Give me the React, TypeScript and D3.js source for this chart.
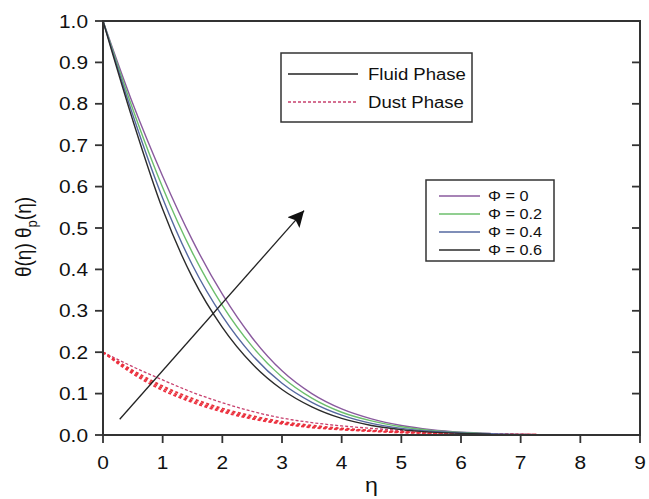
import React from "react";
import * as d3 from "d3";

const etaGrid = [0, 0.5, 1, 1.5, 2, 2.5, 3, 3.5, 4, 4.5, 5, 5.5, 6, 6.5];
const fluidPhi0 = [1.0, 0.8, 0.625, 0.47, 0.34, 0.235, 0.155, 0.1, 0.063, 0.039, 0.023, 0.013, 0.007, 0.004];
const fluidPhi02 = [1.0, 0.787, 0.598, 0.44, 0.313, 0.214, 0.14, 0.089, 0.055, 0.034, 0.02, 0.011, 0.006, 0.003];
const fluidPhi04 = [1.0, 0.773, 0.572, 0.41, 0.287, 0.193, 0.125, 0.079, 0.048, 0.028, 0.016, 0.009, 0.005, 0.003];
const fluidPhi06 = [1.0, 0.76, 0.545, 0.38, 0.26, 0.172, 0.11, 0.068, 0.04, 0.023, 0.013, 0.007, 0.004, 0.002];
const tailEta = [6.5, 7, 8, 9];
const tailPhi0 = [0.003, 0.0015, 0.0, 0.0];

const dustEta = [0, 0.5, 1, 1.5, 2, 2.5, 3, 3.5, 4, 4.5, 5, 5.5, 6, 6.5, 7, 7.3];
const dustPhi0 = [0.2, 0.165, 0.133, 0.103, 0.078, 0.057, 0.041, 0.03, 0.022, 0.016, 0.011, 0.008, 0.005, 0.003, 0.002, 0.001];
const dustPhi02 = [0.2, 0.156, 0.118, 0.088, 0.064, 0.046, 0.032, 0.023, 0.016, 0.011, 0.008, 0.005, 0.003, 0.002, 0.001, 0.0005];
const dustPhi04 = [0.2, 0.152, 0.113, 0.083, 0.06, 0.042, 0.029, 0.02, 0.014, 0.01, 0.007, 0.005, 0.003, 0.002, 0.001, 0.0005];
const dustPhi06 = [0.2, 0.148, 0.108, 0.079, 0.056, 0.039, 0.027, 0.018, 0.013, 0.009, 0.006, 0.004, 0.002, 0.001, 0.0008, 0.0004];

const xTicks = [0, 1, 2, 3, 4, 5, 6, 7, 8, 9];
const yTicks = [0, 0.1, 0.2, 0.3, 0.4, 0.5, 0.6, 0.7, 0.8, 0.9, 1.0];
const phiLabels = ["Φ = 0", "Φ = 0.2", "Φ = 0.4", "Φ = 0.6"];
const phaseLabels = ["Fluid Phase", "Dust Phase"];
const arrowFrom = [0.28, 0.038];
const arrowTo = [3.37, 0.542];

const COLORS = ["#8a5a9e", "#6cbf6c", "#5568a0", "#2b2b2b"];
const DUST_COLORS = ["#c8406e", "#e8323c", "#e8323c", "#ee3040"];
const FONT = "Liberation Sans, Arial, sans-serif";
const SX = 1.16;

function SText({ x, y, size, anchor = "start", children }: any) {
  return (
    <text
      transform={`translate(${x},${y}) scale(${SX},1)`}
      fontSize={size}
      fontFamily={FONT}
      textAnchor={anchor}
      fill="#111"
    >
      {children}
    </text>
  );
}

export default function App() {
  const W = 649, H = 499;
  const x = d3.scaleLinear().domain([0, 9]).range([103, 640]);
  const y = d3.scaleLinear().domain([0, 1]).range([435, 21]);
  const line = d3
    .line<[number, number]>()
    .x((d) => x(d[0]))
    .y((d) => y(d[1]))
    .curve(d3.curveMonotoneX);

  const fluid = [fluidPhi0, fluidPhi02, fluidPhi04, fluidPhi06].map((vals) =>
    etaGrid.map((e, i) => [e, vals[i]] as [number, number])
  );
  const tail = tailEta.map((e, i) => [e, tailPhi0[i]] as [number, number]);
  const dust = [dustPhi0, dustPhi02, dustPhi04, dustPhi06].map((vals) =>
    dustEta.map((e, i) => [e, vals[i]] as [number, number])
  );

  const x0 = x(0), x1 = x(9), y0 = y(0), y1 = y(1);

  return (
    <svg width={W} height={H} style={{ position: "absolute", left: 0, top: 0, background: "#fff" }}>
      <defs>
        <marker id="ah" viewBox="0 0 10 10" refX="10" refY="5" markerWidth="16" markerHeight="16" markerUnits="userSpaceOnUse" orient="auto">
          <path d="M0,0 L10,5 L0,10 L2,5 z" fill="#111" />
        </marker>
      </defs>
      <rect width={W} height={H} fill="#fff" />

      {/* dust curves */}
      {dust.map((d, i) => (
        <path key={"d" + i} d={line(d) || ""} fill="none" stroke={DUST_COLORS[i]} strokeWidth={i === 0 ? 1.3 : 1.8} strokeDasharray={i === 0 ? "3,2" : "3,2.5"} />
      ))}
      {/* fluid curves */}
      <path d={line(tail) || ""} fill="none" stroke={COLORS[2]} strokeWidth={1.3} />
      {fluid.map((d, i) => (
        <path key={"f" + i} d={line(d) || ""} fill="none" stroke={COLORS[i]} strokeWidth={1.4} />
      ))}

      {/* arrow */}
      <line x1={x(arrowFrom[0])} y1={y(arrowFrom[1])} x2={x(arrowTo[0])} y2={y(arrowTo[1])} stroke="#222" strokeWidth={1.3} markerEnd="url(#ah)" />

      {/* frame */}
      <rect x={x0} y={y1} width={x1 - x0} height={y0 - y1} fill="none" stroke="#333" strokeWidth={2} />

      {/* y ticks */}
      {yTicks.map((t) => (
        <g key={"yt" + t}>
          <line x1={x0 - 8} x2={x0} y1={y(t)} y2={y(t)} stroke="#333" strokeWidth={1.8} />
          <line x1={x1 - 8} x2={x1} y1={y(t)} y2={y(t)} stroke="#333" strokeWidth={1.8} />
          <SText x={x0 - 15} y={y(t) + 6.5} size={18} anchor="end">{t.toFixed(1)}</SText>
        </g>
      ))}
      {/* x ticks */}
      {xTicks.map((t) => (
        <g key={"xt" + t}>
          <line x1={x(t)} x2={x(t)} y1={y0} y2={y0 + 8} stroke="#333" strokeWidth={1.8} />
          <SText x={x(t)} y={469} size={18} anchor="middle">{t}</SText>
        </g>
      ))}

      {/* axis titles */}
      <SText x={(x0 + x1) / 2} y={492} size={20} anchor="middle">η</SText>
      <text transform={`translate(31,237) rotate(-90) scale(1,${SX})`} fontSize={19} fontFamily={FONT} textAnchor="middle" fill="#111">
        θ(η) θ<tspan fontSize={13} dy={5}>p</tspan><tspan dy={-5}>(η)</tspan>
      </text>

      {/* legend 1 */}
      <rect x={281} y={53} width={191} height={69} fill="#fff" stroke="#333" strokeWidth={1.5} />
      <line x1={288} x2={358} y1={74} y2={74} stroke="#222" strokeWidth={1.4} />
      <SText x={368} y={80} size={16}>{phaseLabels[0]}</SText>
      <line x1={288} x2={358} y1={102} y2={102} stroke={DUST_COLORS[0]} strokeWidth={1.3} strokeDasharray="3,2" />
      <SText x={368} y={108} size={16}>{phaseLabels[1]}</SText>

      {/* legend 2 */}
      <rect x={426} y={180} width={128} height={81} fill="#fff" stroke="#333" strokeWidth={1.5} />
      {phiLabels.map((lab, i) => (
        <g key={"pl" + i}>
          <line x1={439} x2={480} y1={196 + i * 18} y2={196 + i * 18} stroke={COLORS[i]} strokeWidth={1.5} />
          <SText x={488} y={201 + i * 18} size={14}>{lab}</SText>
        </g>
      ))}
    </svg>
  );
}
